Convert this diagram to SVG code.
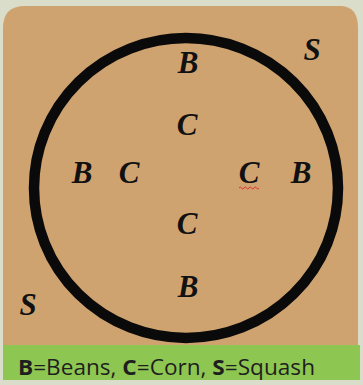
<svg xmlns="http://www.w3.org/2000/svg" width="363" height="385" viewBox="0 0 363 385">
<style>
.l{font-family:"Liberation Serif","Times New Roman",serif;font-weight:bold;font-style:italic;font-size:31px;fill:#111;text-anchor:middle}
.k{font-family:"Open Sans","Liberation Sans",sans-serif;font-size:21px;fill:#1e1e1e}
</style>
<rect x="0" y="0" width="363" height="385" fill="#d9ddca"/>
<path d="M3,345 L3,28 Q3,6 25,6 L340,6 Q358,6 358,28 L358,345 Z" fill="#cfa36f"/>
<rect x="3" y="345" width="357" height="35" fill="#8ec652"/>
<g id="circle"><ellipse cx="186" cy="188" rx="152" ry="150" fill="none" stroke="#0a0a0a" stroke-width="10.5"/></g>
<g id="labels">
<text class="l" x="188" y="73">B</text>
<text class="l" x="187" y="135">C</text>
<text class="l" x="82" y="183">B</text>
<text class="l" x="129" y="183">C</text>
<text class="l" x="249" y="183">C</text>
<text class="l" x="301" y="183">B</text>
<text class="l" x="187" y="234">C</text>
<text class="l" x="188" y="297">B</text>
<text class="l" x="312" y="60">S</text>
<text class="l" x="28" y="315">S</text>
</g>
<path d="M239,188 q1.25,-2 2.5,0 t2.5,0 t2.5,0 t2.5,0 t2.5,0 t2.5,0 t2.5,0 t2.5,0" fill="none" stroke="#e03030" stroke-width="1"/>
<text class="k" x="18" y="375" textLength="297" lengthAdjust="spacingAndGlyphs"><tspan font-weight="bold">B</tspan>=Beans, <tspan font-weight="bold">C</tspan>=Corn, <tspan font-weight="bold">S</tspan>=Squash</text>
</svg>
